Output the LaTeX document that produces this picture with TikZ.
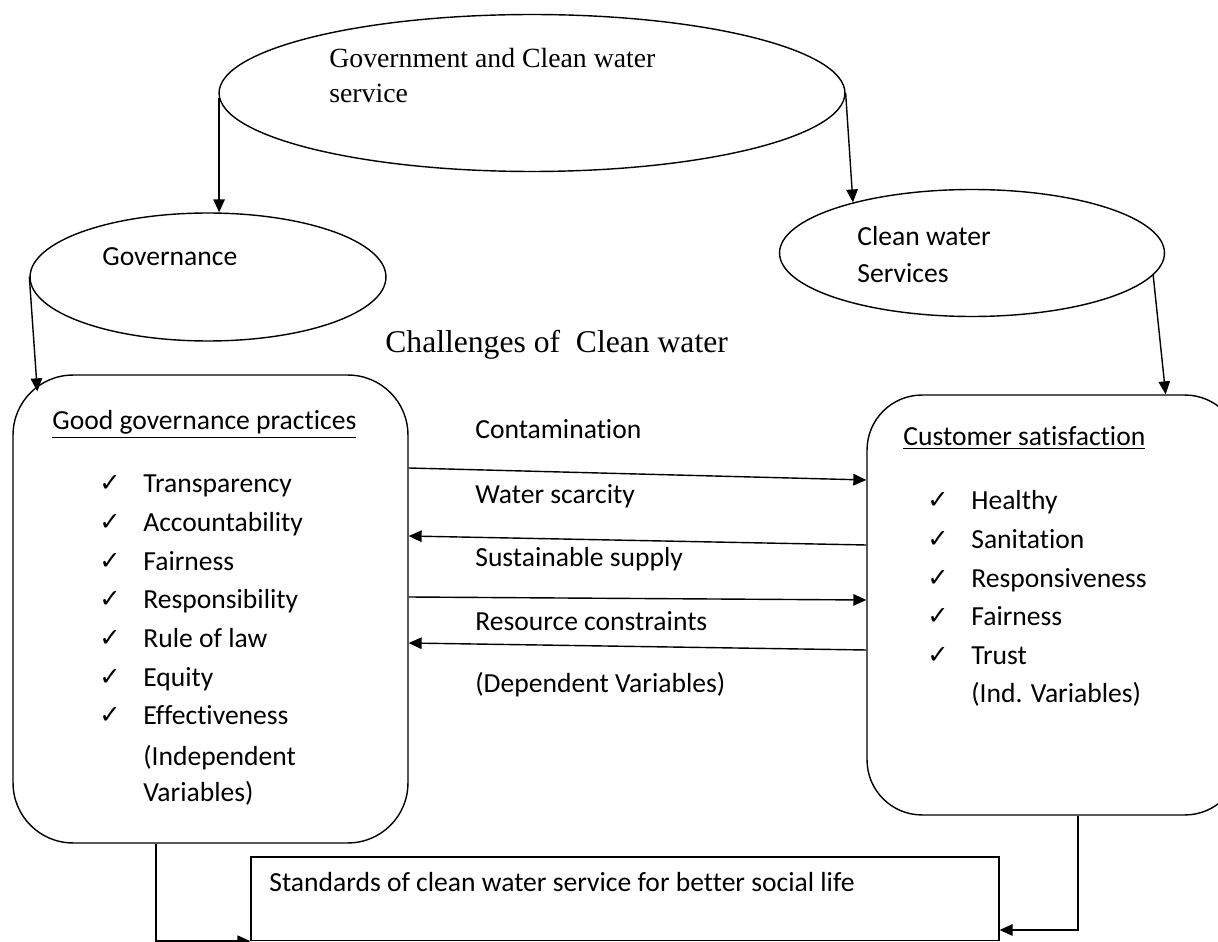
\documentclass[tikz,border=0pt]{standalone}
\usepackage{fontspec}
\setmainfont{Carlito}[Ligatures = NoCommon]
\newfontfamily\timesfont{Liberation Serif}
\newfontfamily\tickfont{DejaVu Sans}
\usetikzlibrary{positioning, calc, arrows.meta, shapes}

\begin{document}
\begin{tikzpicture}[x = 0.02cm, y = -0.02cm]

\tikzset{
bubble/.style = {ellipse, draw, line width = 0.8pt, inner sep = 0pt},
panel/.style = {rectangle, draw, line width = 0.8pt, inner sep = 0pt},
flow/.style = {-{Triangle[length = 2.6mm, width = 2.3mm]}, line width = 0.8pt},
txt/.style = {anchor = base west, inner sep = 0pt, font = \fontsize{15.7}{18}\selectfont},
times/.style = {anchor = base west, inner sep = 0pt, font = \timesfont\fontsize{15.8}{18}\selectfont},
tick/.style = {anchor = base west, inner sep = 0pt, font = \tickfont\fontsize{14.5}{16}\selectfont},
}

\useasboundingbox (0,0) rectangle (1218,942);
\clip (0,0) rectangle (1218,942);

%% Ellipses
\node at (532,93) [bubble, minimum width = 12.52cm, minimum height = 3.14cm] (govt) {};
\node at (329,68) [times] (govt1) {Government and Clean water};
\node at (329,103) [times] (govt2) {service};

\node at (208,277) [bubble, minimum width = 7.12cm, minimum height = 2.56cm] (gov) {};
\node at (102,266) [txt] (govtxt) {Governance};

\node at (972,253) [bubble, minimum width = 7.7cm, minimum height = 2.54cm] (cws) {};
\node at (857,246) [txt] (cws1) {Clean water};
\node at (857,283) [txt] (cws2) {Services};

\node at (385,353) [times, font = \timesfont\fontsize{18}{20}\selectfont] (chal) {Challenges of\ \ Clean water};

%% Panels
\node at (210.5,609) [panel, rounded corners = 1.2cm, minimum width = 7.9cm, minimum height = 9.36cm] (gpract) {};
\node at (52,430) [txt] (gptitle) {\underline{Good governance practices}};
\foreach \item [count = \i from 0] in {Transparency, Accountability, Fairness, Responsibility, Rule of law, Equity, Effectiveness}
{
	\node at (99,{492 + 38.6*\i}) [tick] (gtick\i) {✓};
	\node at (143,{493 + 38.6*\i}) [txt] (gitem\i) {\item};
}
\node at (143,765) [txt] (gind1) {(Independent};
\node at (143,801) [txt] (gind2) {Variables)};

\node at (1053.5,605) [panel, rounded corners = 1.1cm, minimum width = 7.46cm, minimum height = 8.4cm] (csat) {};
\node at (903,446) [txt] (cstitle) {\underline{Customer satisfaction}};
\foreach \item [count = \i from 0] in {Healthy, Sanitation, Responsiveness, Fairness, Trust}
{
	\node at (927,{509 + 38.6*\i}) [tick] (ctick\i) {✓};
	\node at (971,{510 + 38.6*\i}) [txt] (citem\i) {\item};
}
\node at (971,703) [txt] (cind) {(Ind. Variables)};

%% Challenges
\node at (475,439) [txt] (ch1) {Contamination};
\node at (475,504) [txt] (ch2) {Water scarcity};
\node at (475,567) [txt] (ch3) {Sustainable supply};
\node at (475,630) [txt] (ch4) {Resource constraints};
\node at (475,692) [txt] (dep) {(Dependent Variables)};

%% Outcome
\node at (625,898.75) [panel, minimum width = 14.96cm, minimum height = 1.67cm] (std) {};
\node at (269,891) [txt] (stdtxt) {Standards of clean water service for better social life};

% The arrows
\coordinate (gpin) at ($(gpract.north west) + (25,17)$);
\coordinate (csin) at ($(csat.north east) + (-75,0)$);

\path [flow] (govt.181) edge [] (govt.181 |- gov.north);
\path [flow] (govt.east) edge [] (cws.157);
\path [flow] (gov.west) edge [] (gpin);
\path [flow] (cws.-7) edge [] (csin);

\path [flow] (gpract.east |- 0,468) edge [] (csat.west |- 0,480);
\path [flow] (csat.west |- 0,545) edge [] (gpract.east |- 0,536);
\path [flow] (gpract.east |- 0,597) edge [] (csat.west |- 0,600);
\path [flow] (csat.west |- 0,650) edge [] (gpract.east |- 0,643);

\draw [flow] (156,0 |- gpract.south) |- (std.south west);
\draw [flow] (1078,0 |- csat.south) |- (std.east |- 0,930);

\end{tikzpicture}
\end{document}
